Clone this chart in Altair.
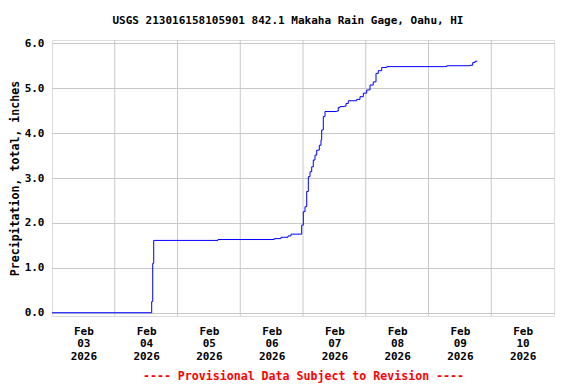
import altair as alt
import pandas as pd

# ---- data (UTC timestamps, cumulative inches) ----
times = [
    "2026-02-03T00:00:00Z", "2026-02-04T14:08:00Z", "2026-02-04T14:31:00Z",
    "2026-02-04T14:54:00Z", "2026-02-05T15:29:00Z", "2026-02-06T13:01:00Z",
    "2026-02-06T15:35:00Z", "2026-02-06T18:16:00Z", "2026-02-06T19:25:00Z",
    "2026-02-06T23:30:00Z", "2026-02-07T00:07:00Z", "2026-02-07T00:46:00Z",
    "2026-02-07T01:25:00Z", "2026-02-07T02:02:00Z", "2026-02-07T02:41:00Z",
    "2026-02-07T03:20:00Z", "2026-02-07T03:56:00Z", "2026-02-07T04:35:00Z",
    "2026-02-07T05:14:00Z", "2026-02-07T06:14:00Z", "2026-02-07T06:53:00Z",
    "2026-02-07T07:09:00Z", "2026-02-07T07:46:00Z", "2026-02-07T08:25:00Z",
    "2026-02-07T12:53:00Z", "2026-02-07T13:30:00Z", "2026-02-07T14:09:00Z",
    "2026-02-07T15:48:00Z", "2026-02-07T16:27:00Z", "2026-02-07T17:20:00Z",
    "2026-02-07T20:32:00Z", "2026-02-07T21:48:00Z", "2026-02-07T23:04:00Z",
    "2026-02-08T00:22:00Z", "2026-02-08T01:38:00Z", "2026-02-08T02:53:00Z",
    "2026-02-08T03:55:00Z", "2026-02-08T04:48:00Z", "2026-02-08T06:06:00Z",
    "2026-02-08T08:01:00Z", "2026-02-09T06:58:00Z", "2026-02-09T15:52:00Z",
    "2026-02-09T16:54:00Z", "2026-02-09T17:47:00Z", "2026-02-09T18:40:00Z",
]
precip = [
    0.00, 0.25, 1.10,
    1.61, 1.63, 1.65,
    1.68, 1.71, 1.75,
    1.95, 2.25, 2.36,
    2.70, 3.03, 3.14,
    3.25, 3.40, 3.51,
    3.62, 3.73, 3.85,
    4.07, 4.37, 4.48,
    4.49, 4.57, 4.59,
    4.60, 4.66, 4.72,
    4.75, 4.81, 4.89,
    4.96, 5.07, 5.14,
    5.33, 5.39, 5.46,
    5.48, 5.50, 5.51,
    5.57, 5.60, 5.60,
]
grid_days = [
    "2026-02-04T00:00:00Z", "2026-02-05T00:00:00Z", "2026-02-06T00:00:00Z",
    "2026-02-07T00:00:00Z", "2026-02-08T00:00:00Z", "2026-02-09T00:00:00Z",
    "2026-02-10T00:00:00Z",
]
label_dates = [3, 4, 5, 6, 7, 8, 9, 10]      # February 2026, labelled at noon
y_ticks = [0, 1, 2, 3, 4, 5, 6]

title_text = "USGS 213016158105901 842.1 Makaha Rain Gage, Oahu, HI"
y_title = "Precipitation, total, inches"
footer = "---- Provisional Data Subject to Revision ----"

df = pd.DataFrame({"time": times, "precip": precip})
grid_df = pd.DataFrame({"day": grid_days})

FONT = "DejaVu Sans Mono"

x_scale = alt.Scale(
    type="utc",
    domain=[alt.DateTime(year=2026, month=2, date=3, utc=True),
            alt.DateTime(year=2026, month=2, date=11, utc=True)],
)
x_axis = alt.Axis(
    values=[alt.DateTime(year=2026, month=2, date=d, hours=12, utc=True) for d in label_dates],
    labelExpr="[utcFormat(datum.value, '%b'), utcFormat(datum.value, '%d'), utcFormat(datum.value, '%Y')]",
    grid=False, ticks=False, domain=False,
    labelFont=FONT, labelFontSize=11, labelFontWeight="bold", labelColor="black",
    labelLineHeight=12.7, labelPadding=9, labelAngle=0, labelBaseline="top",
    labelOverlap=False, labelFlush=False,
    title=footer, titleFont=FONT, titleFontSize=11.6, titleFontWeight="bold",
    titleColor="#ff0000", titlePadding=9,
)

def xenc(field):
    return alt.X(field, type="temporal", scale=x_scale, axis=x_axis)

rules = alt.Chart(grid_df).mark_rule(color="#c8c8c8", strokeWidth=1).encode(
    x=xenc("day")
)

line = alt.Chart(df).mark_line(color="#0000ff", strokeWidth=1, interpolate="step-after").encode(
    x=xenc("time"),
    y=alt.Y(
        "precip:Q",
        scale=alt.Scale(domain=[-0.073, 6.073], nice=False, zero=False),
        axis=alt.Axis(
            values=y_ticks, format=".1f", grid=True, gridColor="#c8c8c8", gridWidth=1,
            ticks=False, domain=False,
            labelFont=FONT, labelFontSize=11, labelFontWeight="bold", labelColor="black",
            labelPadding=8,
            title=y_title, titleFont=FONT, titleFontSize=11.6, titleFontWeight="bold",
            titleColor="black", titlePadding=4,
        ),
    ),
)

chart = alt.layer(rules, line).properties(
    width=502,
    height=276,
    autosize=alt.AutoSizeParams(type="none"),
    padding={"left": 44, "top": 32, "right": 10, "bottom": 67},
    title=alt.TitleParams(
        text=title_text, font=FONT, fontSize=11, fontWeight="bold", color="black",
        anchor="middle", dx=-15, offset=11,
    ),
).configure_view(stroke="black", strokeWidth=1).configure(background="white")

chart.save("out.html", embed_options={"renderer": "svg", "actions": False})
